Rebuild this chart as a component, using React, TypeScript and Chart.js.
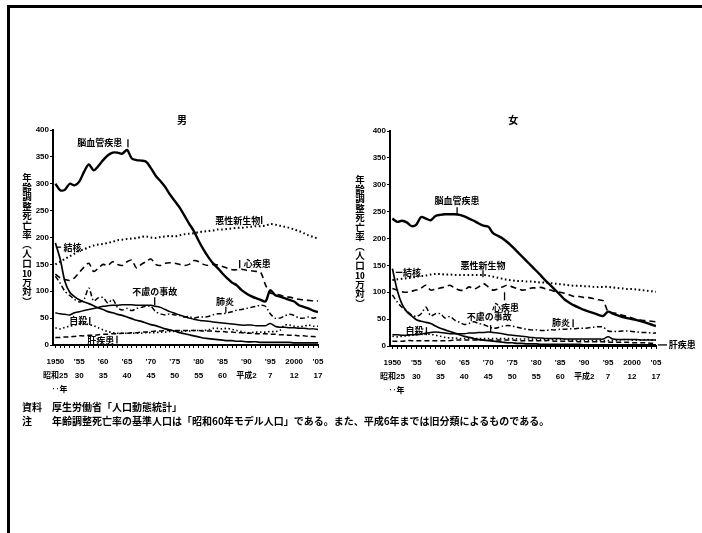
import React, { useEffect, useRef } from "react";
import { Chart, registerables } from "chart.js";
Chart.register(...registerables);

// ---------- categories ----------
const years = [
  1950, 1951, 1952, 1953, 1954, 1955, 1956, 1957, 1958, 1959,
  1960, 1961, 1962, 1963, 1964, 1965, 1966, 1967, 1968, 1969,
  1970, 1971, 1972, 1973, 1974, 1975, 1976, 1977, 1978, 1979,
  1980, 1981, 1982, 1983, 1984, 1985, 1986, 1987, 1988, 1989,
  1990, 1991, 1992, 1993, 1994, 1995, 1996, 1997, 1998, 1999,
  2000, 2001, 2002, 2003, 2004, 2005,
];

// ---------- tick labels ----------
const tickYears = [1950, 1955, 1960, 1965, 1970, 1975, 1980, 1985, 1990, 1995, 2000, 2005];
const tickRowWestern = ["1950", "'55", "'60", "'65", "'70", "'75", "'80", "'85", "'90", "'95", "2000", "'05"];
const tickRowJapanese = ["昭和25", "30", "35", "40", "45", "50", "55", "60", "平成2", "7", "12", "17"];
const tickRowUnit = "　‥年";
const yTicks = [0, 50, 100, 150, 200, 250, 300, 350, 400];

// ---------- male series ----------
const maleCerebro = [
  300, 288, 289, 300, 297, 304, 322, 336, 325, 333,
  344, 353, 358, 358, 356, 363, 347, 344, 343, 341,
  329, 315, 305, 294, 280, 268, 256, 241, 226, 212,
  194, 178, 164, 152, 143, 133, 124, 116, 111, 102,
  96, 91, 87, 84, 81, 102, 93, 90, 87, 84,
  81, 74, 71, 68, 64, 61,
];
const maleCancer = [
  150, 155, 160, 165, 170, 175, 178, 182, 185, 187,
  188, 190, 192, 195, 196, 197, 198, 199, 201, 202,
  200, 199, 201, 202, 203, 202, 204, 206, 207, 208,
  210, 211, 212, 213, 215, 215, 216, 217, 218, 218,
  219, 220, 221, 221, 222, 225, 224, 222, 220, 218,
  215, 212, 208, 204, 201, 198,
];
const maleHeart = [
  132, 125, 122, 120, 125, 135, 145, 152, 137, 143,
  150, 148, 155, 150, 148, 155, 158, 143, 150, 155,
  160, 150, 148, 152, 153, 152, 150, 148, 150, 157,
  155, 150, 148, 150, 149, 146, 143, 140, 140, 141,
  139, 138, 137, 135, 112, 97, 95, 93, 90, 89,
  87, 85, 84, 83, 82, 82,
];
const maleTuberculosis = [
  190, 160, 118, 98, 90, 84, 80, 77, 73, 69,
  66, 62, 60, 57, 55, 52, 49, 46, 44, 41,
  38, 36, 33, 30, 28, 26, 23, 21, 19, 17,
  15, 13, 12, 11, 10, 9, 8, 8, 7, 7,
  6, 6, 6, 5, 5, 5, 5, 5, 5, 5,
  4, 4, 4, 4, 4, 4,
];
const maleAccident = [
  60, 58, 57, 56, 60, 62, 64, 66, 68, 70,
  72, 73, 74, 74, 75, 75, 75, 74, 74, 74,
  74, 72, 70, 66, 62, 59, 56, 53, 50, 48,
  46, 45, 44, 43, 42, 41, 40, 39, 38, 37,
  37, 37, 36, 36, 36, 40, 35, 33, 33, 32,
  32, 31, 31, 30, 30, 29,
];
const malePneumonia = [
  128, 115, 100, 92, 85, 80, 85, 106, 82, 88,
  88, 78, 85, 70, 65, 68, 64, 68, 70, 72,
  72, 62, 58, 56, 58, 56, 55, 52, 53, 50,
  52, 52, 53, 56, 58, 58, 60, 62, 65, 66,
  68, 70, 72, 74, 72, 58, 50, 50, 54, 57,
  55, 50, 50, 52, 50, 52,
];
const maleSuicide = [
  32, 30, 33, 35, 37, 39, 40, 38, 36, 32,
  28, 25, 23, 22, 22, 22, 22, 22, 22, 23,
  23, 23, 24, 24, 25, 25, 25, 26, 26, 27,
  27, 27, 28, 31, 31, 30, 31, 29, 27, 25,
  23, 23, 24, 24, 24, 25, 25, 27, 37, 37,
  35, 34, 35, 37, 35, 35,
];
const maleLiver = [
  14, 14, 15, 15, 16, 17, 17, 18, 18, 19,
  20, 20, 21, 21, 22, 22, 23, 23, 24, 24,
  25, 26, 26, 27, 27, 27, 27, 27, 27, 27,
  27, 26, 26, 26, 25, 25, 24, 24, 23, 23,
  22, 22, 21, 21, 21, 20, 20, 19, 19, 18,
  18, 17, 17, 16, 16, 15,
];

// ---------- female series ----------
const femaleCerebro = [
  237, 231, 233, 230, 223, 226, 240, 237, 234, 242,
  244, 245, 245, 245, 244, 241, 237, 233, 228, 224,
  222, 210, 205, 200, 193, 185, 176, 167, 158, 149,
  140, 131, 121, 113, 104, 95, 86, 80, 75, 71,
  67, 64, 61, 58, 56, 64, 60, 57, 54, 52,
  50, 48, 46, 43, 40, 37,
];
const femaleCancer = [
  123, 124, 125, 126, 127, 129, 130, 131, 133, 134,
  134, 133, 133, 132, 132, 132, 132, 132, 132, 132,
  131, 129, 127, 125, 123, 122, 121, 121, 120, 120,
  119, 118, 118, 117, 116, 115, 114, 113, 112, 112,
  111, 111, 110, 110, 110, 110, 109, 108, 107, 106,
  106, 105, 104, 103, 102, 101,
];
const femaleHeart = [
  107, 104, 101, 100, 102, 104, 108, 113, 104, 106,
  108, 110, 113, 108, 104, 104, 110, 106, 110, 116,
  110, 104, 106, 110, 113, 110, 107, 104, 105, 108,
  108, 109, 106, 104, 101, 100, 98, 95, 92, 92,
  90, 90, 88, 86, 84, 64, 62, 60, 57, 55,
  52, 49, 48, 47, 46, 45,
];
const femaleTuberculosis = [
  144, 104, 78, 64, 56, 49, 46, 44, 42, 37,
  33, 30, 27, 24, 21, 18, 16, 14, 12, 11,
  10, 9, 8, 7, 6, 6, 5, 5, 4, 4,
  4, 3, 3, 3, 3, 3, 3, 3, 3, 3,
  2, 2, 2, 2, 2, 2, 2, 2, 2, 2,
  2, 2, 2, 2, 2, 2,
];
const femaleAccident = [
  21, 21, 20, 20, 21, 21, 22, 24, 25, 26,
  25, 24, 23, 23, 23, 23, 24, 24, 25, 25,
  26, 25, 24, 23, 21, 20, 19, 18, 17, 16,
  15, 15, 14, 14, 14, 14, 13, 13, 13, 13,
  13, 13, 13, 13, 13, 17, 13, 12, 12, 12,
  12, 12, 11, 11, 11, 11,
];
const femalePneumonia = [
  95, 82, 72, 65, 58, 55, 60, 72, 56, 60,
  60, 52, 55, 48, 44, 40, 42, 45, 42, 40,
  36, 33, 34, 37, 38, 37, 35, 33, 31, 30,
  30, 29, 29, 30, 30, 31, 31, 32, 32, 33,
  33, 34, 35, 36, 35, 28, 27, 27, 28, 28,
  27, 26, 25, 25, 24, 24,
];
const femaleSuicide = [
  18, 17, 18, 19, 20, 21, 22, 22, 22, 20,
  18, 16, 15, 15, 14, 14, 14, 14, 14, 14,
  14, 14, 14, 14, 14, 14, 13, 13, 13, 13,
  12, 12, 12, 12, 12, 12, 12, 11, 11, 10,
  10, 10, 10, 10, 10, 10, 10, 10, 12, 12,
  11, 11, 11, 12, 11, 11,
];
const femaleLiver = [
  9, 9, 9, 10, 10, 10, 10, 10, 10, 10,
  10, 10, 10, 11, 11, 11, 11, 11, 11, 11,
  11, 11, 11, 11, 11, 11, 10, 10, 10, 10,
  10, 10, 10, 10, 9, 9, 9, 9, 9, 8,
  8, 8, 8, 8, 8, 7, 7, 7, 7, 7,
  6, 6, 6, 6, 5, 5,
];

// ---------- in-chart labels (data units: year, rate) ----------
type Ann = { text: string; x: number; y: number };
type Seg = [number, number, number, number];

const maleLabels: Ann[] = [
  { text: "男", x: 1976.5, y: 418 },
  { text: "脳血管疾患", x: 1959.3, y: 376 },
  { text: "悪性新生物", x: 1988.2, y: 232 },
  { text: "結核", x: 1953.6, y: 182 },
  { text: "心疾患", x: 1992.3, y: 151 },
  { text: "不慮の事故", x: 1970.8, y: 99 },
  { text: "肺炎", x: 1985.5, y: 80 },
  { text: "自殺", x: 1954.8, y: 45 },
  { text: "肝疾患", x: 1959.5, y: 9 },
];
const maleLeaders: Seg[] = [
  [1965.2, 383, 1965.2, 368],
  [1993.2, 240, 1993.2, 225],
  [1950.1, 182, 1951.2, 182],
  [1988.6, 158, 1988.6, 143],
  [1970.8, 89, 1970.8, 74],
  [1985.7, 71, 1985.7, 60],
  [1957.2, 52, 1957.2, 37],
  [1962.9, 17, 1962.9, 3],
];
const femaleLabels: Ann[] = [
  { text: "女", x: 1975.2, y: 420 },
  { text: "脳血管疾患", x: 1963.5, y: 271 },
  { text: "悪性新生物", x: 1968.9, y: 150 },
  { text: "結核", x: 1954.1, y: 137 },
  { text: "心疾患", x: 1973.6, y: 71 },
  { text: "不慮の事故", x: 1970.2, y: 54 },
  { text: "肺炎", x: 1985.2, y: 43 },
  { text: "自殺", x: 1954.6, y: 28 },
  { text: "肝疾患", x: 2010.5, y: 2 },
];
const femaleLeaders: Seg[] = [
  [1963.5, 258, 1963.5, 245],
  [1968.9, 141, 1968.9, 128],
  [1950.7, 137, 1952.1, 137],
  [1973.4, 100, 1973.4, 85],
  [1970.5, 39, 1970.5, 26],
  [1987.7, 50, 1987.7, 35],
  [1957.1, 35, 1957.1, 20],
  [2005.4, 2, 2007.3, 2],
];

const LATIN = '"Liberation Sans", "Noto Sans CJK JP", sans-serif';
const CJK = '"Noto Sans CJK JP", sans-serif';

const lineStyles = [
  { width: 2.4, dash: [] as number[] }, // cerebro
  { width: 2.0, dash: [1.6, 2.6] }, // cancer
  { width: 1.6, dash: [6, 4] }, // heart
  { width: 1.7, dash: [] as number[] }, // tb
  { width: 1.5, dash: [] as number[] }, // accident
  { width: 1.5, dash: [5, 2.5, 1.5, 2.5] }, // pneumonia
  { width: 1.6, dash: [1.5, 2.5] }, // suicide
  { width: 1.5, dash: [5, 3] }, // liver
];

function toPoints(vals: number[]) {
  return years.map((yr, i) => ({ x: yr, y: vals[i] }));
}

type PanelProps = {
  series: number[][];
  labels: Ann[];
  leaders: Seg[];
  left: number;
  top: number;
  width: number;
  height: number;
  padding: { left: number; right: number; top: number; bottom: number };
};

function Panel(props: PanelProps) {
  const ref = useRef<HTMLCanvasElement | null>(null);
  useEffect(() => {
    if (!ref.current) return;
    const annPlugin = {
      id: "annot",
      afterDatasetsDraw(chart: any) {
        const { ctx, scales } = chart;
        const xs = scales.x;
        const ys = scales.y;
        ctx.save();
        ctx.fillStyle = "#000";
        ctx.strokeStyle = "#000";
        ctx.textAlign = "center";
        ctx.textBaseline = "middle";
        props.labels.forEach((a) => {
          ctx.font = a.text.length === 1 ? `bold 10px ${CJK}` : `bold 9px ${CJK}`;
          ctx.fillText(a.text, xs.getPixelForValue(a.x), ys.getPixelForValue(a.y));
        });
        ctx.lineWidth = 1.3;
        props.leaders.forEach((s) => {
          ctx.beginPath();
          ctx.moveTo(xs.getPixelForValue(s[0]), ys.getPixelForValue(s[1]));
          ctx.lineTo(xs.getPixelForValue(s[2]), ys.getPixelForValue(s[3]));
          ctx.stroke();
        });
        ctx.restore();
      },
    };
    const chart = new Chart(ref.current, {
      type: "line",
      data: {
        datasets: props.series.map((vals, i) => ({
          data: toPoints(vals),
          borderColor: "#000",
          backgroundColor: "#000",
          borderWidth: lineStyles[i].width,
          borderDash: lineStyles[i].dash,
          pointRadius: 0,
          tension: 0.3,
          fill: false,
        })),
      },
      options: {
        responsive: false,
        animation: false,
        devicePixelRatio: 1,
        layout: { padding: props.padding },
        plugins: { legend: { display: false }, title: { display: false }, tooltip: { enabled: false } },
        scales: {
          x: {
            type: "linear",
            min: 1949.5,
            max: 2005,
            afterFit: (s: any) => {
              s.height = 50;
            },
            border: { display: true, color: "#000", width: 2 },
            grid: { display: true, drawOnChartArea: false, drawTicks: true, tickLength: 3, color: "#000", lineWidth: 1 },
            ticks: {
              stepSize: 1,
              autoSkip: false,
              maxRotation: 0,
              minRotation: 0,
              includeBounds: false,
              padding: 7,
              color: "#000",
              font: { family: LATIN, size: 8, weight: "bold", lineHeight: 1.75 },
              callback: (v: any) => {
                const i = tickYears.indexOf(Number(v));
                if (i < 0) return "";
                return i === 0
                  ? [tickRowWestern[i], tickRowJapanese[i], tickRowUnit]
                  : [tickRowWestern[i], tickRowJapanese[i]];
              },
            },
          },
          y: {
            min: yTicks[0],
            max: yTicks[yTicks.length - 1],
            afterFit: (s: any) => {
              s.width = 40;
            },
            border: { display: true, color: "#000", width: 2 },
            grid: { display: true, drawOnChartArea: false, drawTicks: true, tickLength: 3, color: "#000" },
            ticks: {
              stepSize: 50,
              padding: 1,
              color: "#000",
              font: { family: LATIN, size: 8, weight: "bold" },
            },
          },
        },
      } as any,
      plugins: [annPlugin],
    });
    return () => chart.destroy();
  }, []);
  return (
    <canvas
      ref={ref}
      width={props.width}
      height={props.height}
      style={{ position: "absolute", left: props.left, top: props.top, width: props.width, height: props.height }}
    />
  );
}

function YTitle({ left, top }: { left: number; top: number }) {
  return (
    <div
      style={{
        position: "absolute",
        left,
        top,
        writingMode: "vertical-rl",
        fontFamily: CJK,
        fontWeight: "bold",
        fontSize: "9.5px",
        lineHeight: "10px",
        color: "#000",
        whiteSpace: "nowrap",
      }}
    >
      年齢調整死亡率（人口<span style={{ textCombineUpright: "all" } as any}>10</span>万対）
    </div>
  );
}

export default function App() {
  return (
    <div style={{ position: "absolute", left: 0, top: 0, width: 702, height: 533, background: "#fff", overflow: "hidden" }}>
      <div
        style={{
          position: "absolute",
          left: 7,
          top: 5,
          width: 700,
          height: 540,
          borderTop: "3px solid #000",
          borderLeft: "3.5px solid #000",
        }}
      />
      <Panel
        series={[maleCerebro, maleCancer, maleHeart, maleTuberculosis, maleAccident, malePneumonia, maleSuicide, maleLiver]}
        labels={maleLabels}
        leaders={maleLeaders}
        left={0}
        top={110}
        width={345}
        height={290}
        padding={{ left: 13, right: 27, top: 20, bottom: 5 }}
      />
      <Panel
        series={[femaleCerebro, femaleCancer, femaleHeart, femaleTuberculosis, femaleAccident, femalePneumonia, femaleSuicide, femaleLiver]}
        labels={femaleLabels}
        leaders={femaleLeaders}
        left={345}
        top={110}
        width={357}
        height={290}
        padding={{ left: 5, right: 46, top: 21, bottom: 4 }}
      />
      <YTitle left={22} top={173} />
      <YTitle left={355} top={175} />
      <div
        style={{
          position: "absolute",
          left: 22,
          top: 400,
          fontFamily: CJK,
          fontWeight: "bold",
          fontSize: "10px",
          lineHeight: "14px",
          color: "#000",
          whiteSpace: "nowrap",
        }}
      >
        <div>
          <span style={{ display: "inline-block", width: 30 }}>資料</span>厚生労働省「人口動態統計」
        </div>
        <div>
          <span style={{ display: "inline-block", width: 30 }}>注</span>
          年齢調整死亡率の基準人口は「昭和60年モデル人口」である。また、平成6年までは旧分類によるものである。
        </div>
      </div>
    </div>
  );
}
